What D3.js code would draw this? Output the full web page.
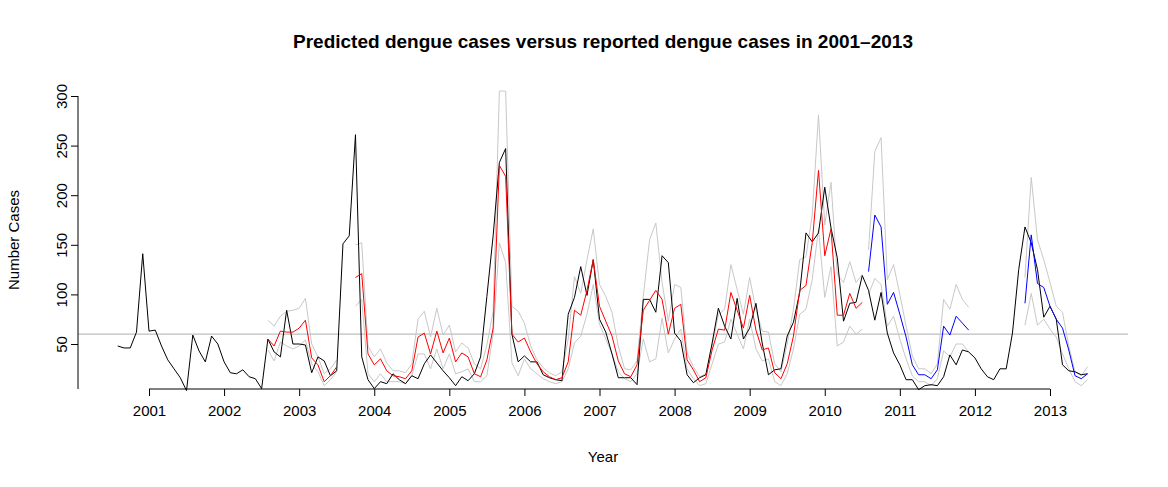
<!DOCTYPE html>
<html>
<head>
<meta charset="utf-8">
<script src="https://d3js.org/d3.v7.min.js"></script>
<style>
  body { margin: 0; background: #fff; font-family: "Liberation Sans", Arial, sans-serif; }
</style>
</head>
<body>
<svg width="1168" height="487"></svg>
<script>
// monthly series, index 0 = Aug 2000
const startYear = 2000 + 7 / 12;
const reported = [
  48,46,46,62,141,63,64,48,34,25,16,3,
  59,43,32,58,50,32,21,20,24,17,15,5,
  55,42,37,84,50,50,49,21,37,33,18,23,
  151,159,261,37,14,5,12,10,20,14,10,18,
  15,30,39,31,23,16,8,17,13,20,37,98,
  159,233,247,60,32,38,32,32,19,16,14,13,
  80,97,128,99,135,75,62,40,16,16,16,9,
  95,95,82,139,132,61,53,19,11,16,19,51,
  86,68,55,96,55,66,91,51,19,24,25,58,
  72,102,162,153,162,208,167,137,73,91,92,119,
  104,74,102,61,41,29,14,14,4,8,9,8,
  17,39,29,44,42,36,25,17,14,25,25,61,
  125,168,152,125,77,88,75,29,23,22,19,20
];
// fitted predictions (red), starting Aug 2002 (index 24)
const fitStart = 24;
const fitted = [
  55,48,63,62,62,66,74,36,29,12,18,27,
  null,null,117,121,40,29,35,23,18,17,15,23,
  57,61,40,63,41,56,32,41,37,20,17,34,
  66,230,219,60,52,56,42,30,22,17,14,16,
  32,84,79,104,135,88,73,58,33,20,17,29,
  84,94,104,95,60,86,90,34,24,12,16,44,
  65,64,102,84,66,99,64,44,46,21,15,30,
  58,104,109,152,225,139,166,79,79,101,86,92
];
const fittedUpper = [
  74,68,78,83,84,86,96,50,37,20,25,34,
  null,null,150,152,48,37,45,31,23,23,21,30,
  75,83,57,86,59,69,42,51,46,30,25,49,
  83,305,305,88,83,71,48,34,26,21,18,22,
  55,118,101,135,166,110,98,82,48,25,24,33,
  98,155,172,112,73,110,107,41,27,17,20,48,
  80,85,130,105,80,117,85,63,62,30,22,50,
  85,135,138,180,281,170,213,120,112,133,112,120
];
const fittedLower = [
  44,33,52,48,45,48,54,30,22,8,14,22,
  null,null,88,95,20,12,20,12,12,12,10,18,
  40,40,25,45,25,40,20,22,25,12,12,18,
  60,152,132,31,18,35,25,20,15,12,10,12,
  25,51,58,80,110,70,55,40,22,15,12,20,
  55,32,35,76,41,55,65,25,15,8,10,30,
  50,52,75,60,45,75,45,33,35,12,8,20,
  45,80,85,115,166,97,128,48,52,68,60,65
];
// forecasts (blue)
const fc1Start = 120;
const forecast1 = [123,180,168,90,102,80,57,29,19,19,15,24,68,59,78,71,64];
const forecast1Upper = [145,244,258,115,130,100,68,38,25,25,20,30,95,85,110,95,87];
const forecast1Lower = [100,116,110,68,78,55,35,18,12,12,8,15,43,37,50,50,42];
const fc2Start = 145;
const forecast2 = [91,160,111,107,88,75,66,44,18,15,20];
const forecast2Upper = [117,218,155,135,112,88,82,48,22,18,27];
const forecast2Lower = [69,101,69,75,65,57,40,25,12,8,14];
const threshold = 60;
const yearTicks = d3.range(2001, 2014);
const caseTicks = [50, 100, 150, 200, 250, 300];

const svg = d3.select("svg");
const x = d3.scaleLinear().domain([2001, 2013]).range([149, 1050]);
const y = d3.scaleLinear().domain([50, 300]).range([344, 96]);

const toPts = (arr, start) => arr.map((v, k) => ({ t: startYear + (start + k) / 12, v }));
const line = d3.line().defined(d => d.v != null).x(d => x(d.t)).y(d => y(d.v));

function draw(arr, start, color, w) {
  svg.append("path").datum(toPts(arr, start))
    .attr("d", line).attr("fill", "none")
    .attr("stroke", color).attr("stroke-width", w);
}

// threshold line
svg.append("line")
  .attr("x1", 78).attr("x2", 1128)
  .attr("y1", y(threshold)).attr("y2", y(threshold))
  .attr("stroke", "#bebebe").attr("stroke-width", 1.3);

// intervals
[[fittedUpper, fitStart], [fittedLower, fitStart],
 [forecast1Upper, fc1Start], [forecast1Lower, fc1Start],
 [forecast2Upper, fc2Start], [forecast2Lower, fc2Start]]
  .forEach(([a, s]) => draw(a, s, "#c8c8c8", 1));

draw(reported, 0, "#000", 1);
draw(fitted, fitStart, "#ff0000", 1);
draw(forecast1, fc1Start, "#0000ff", 1);
draw(forecast2, fc2Start, "#0000ff", 1);

// axes
const xAxis = svg.append("g").attr("transform", "translate(0,389)")
  .call(d3.axisBottom(x).tickValues(yearTicks).tickFormat(d3.format("d")).tickSize(7).tickPadding(9));
const yAxis = svg.append("g").attr("transform", "translate(78,0)")
  .call(d3.axisLeft(y).tickValues(caseTicks).tickSize(7).tickPadding(4));
[xAxis, yAxis].forEach(g => {
  g.selectAll("path").remove();
  g.selectAll("line").attr("stroke", "#000");
  g.selectAll("text").attr("font-size", 15).attr("font-family", "Liberation Sans, Arial, sans-serif").attr("fill", "#000");
});
yAxis.selectAll("text")
  .attr("text-anchor", "middle").attr("dy", 0)
  .attr("transform", d => `translate(-18,${y(d)}) rotate(-90) translate(0,${-y(d)})`)
  .attr("x", 0).attr("y", d => y(d));
yAxis.selectAll(".tick text").each(function(d) {
  d3.select(this).attr("transform", null).attr("x", null).attr("y", null)
    .attr("transform", `translate(-11,0) rotate(-90)`);
});
svg.append("line").attr("x1", 149).attr("x2", 1050).attr("y1", 389).attr("y2", 389).attr("stroke", "#000");
svg.append("line").attr("x1", 78).attr("x2", 78).attr("y1", 96).attr("y2", 389).attr("stroke", "#000");

// titles
svg.append("text").attr("x", 603).attr("y", 48).attr("text-anchor", "middle")
  .attr("font-size", 19).attr("font-weight", "bold")
  .text("Predicted dengue cases versus reported dengue cases in 2001\u20132013");
svg.append("text").attr("x", 603).attr("y", 462).attr("text-anchor", "middle")
  .attr("font-size", 15).text("Year");
svg.append("text").attr("transform", "translate(19,240) rotate(-90)").attr("text-anchor", "middle")
  .attr("font-size", 15).text("Number Cases");
</script>
</body>
</html>
